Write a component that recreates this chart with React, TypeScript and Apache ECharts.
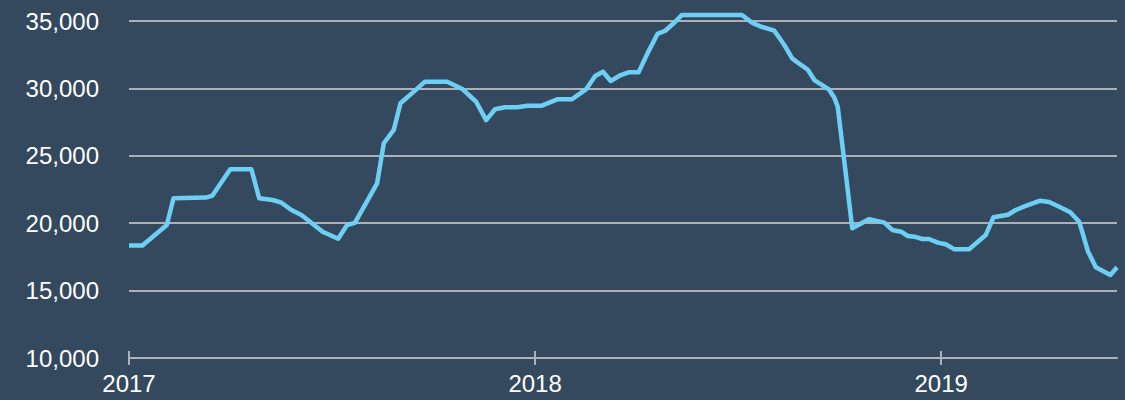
import React, { useEffect, useRef } from "react";
import * as echarts from "echarts";

const dates = [
  "2017-01-01", "2017-01-13", "2017-02-04", "2017-02-10", "2017-03-11", "2017-03-17", "2017-04-02", "2017-04-21",
  "2017-04-28", "2017-05-10", "2017-05-18", "2017-05-27", "2017-06-05", "2017-06-24", "2017-07-08", "2017-07-16",
  "2017-07-23", "2017-08-12", "2017-08-18", "2017-08-27", "2017-09-02", "2017-09-14", "2017-09-24", "2017-10-14",
  "2017-10-28", "2017-11-09", "2017-11-18", "2017-11-26", "2017-12-05", "2017-12-16", "2017-12-25",
  "2018-01-07", "2018-01-21", "2018-02-03", "2018-02-16", "2018-02-24", "2018-03-03", "2018-03-10", "2018-03-19",
  "2018-03-26", "2018-04-04", "2018-04-12", "2018-04-21", "2018-04-28", "2018-05-06", "2018-05-13", "2018-07-06",
  "2018-07-15", "2018-07-23", "2018-08-04", "2018-08-13", "2018-08-20", "2018-08-28", "2018-09-03", "2018-09-09",
  "2018-09-22", "2018-09-27", "2018-09-30", "2018-10-09", "2018-10-13", "2018-10-28", "2018-11-11", "2018-11-18",
  "2018-11-26", "2018-12-02", "2018-12-08", "2018-12-15", "2018-12-21", "2018-12-29",
  "2019-01-05", "2019-01-13", "2019-01-26", "2019-02-10", "2019-02-17", "2019-03-02", "2019-03-09", "2019-03-18",
  "2019-03-31", "2019-04-08", "2019-04-17", "2019-04-27", "2019-05-05", "2019-05-13", "2019-05-20", "2019-06-02",
  "2019-06-08",
];

const values = [
  18350, 18350, 19870, 21850, 21900, 22050, 24000, 24000,
  21850, 21720, 21520, 20980, 20610, 19370, 18850, 19870,
  20020, 22960, 25930, 26920, 28900, 29760, 30500, 30500,
  29930, 29010, 27650, 28450, 28600, 28600, 28720,
  28720, 29190, 29190, 29950, 30920, 31240, 30550, 30990,
  31190, 31190, 32600, 34040, 34280, 34870, 35450, 35450,
  34870, 34580, 34280, 33220, 32230, 31740, 31400, 30620,
  29930, 29300, 28640, 22460, 19620, 20300, 20040, 19500,
  19370, 19050, 19000, 18830, 18830, 18560,
  18440, 18060, 18060, 19120, 20440, 20630, 20980, 21280,
  21670, 21570, 21220, 20810, 20110, 17890, 16730, 16160,
  16730,
];

const yearTicks = ["2017-01-01", "2018-01-01", "2019-01-01"];

const yMin = 10000;
const yMax = 35000;
const yStep = 5000;

const DAY = 86400000;
const origin = Date.parse(dates[0]);
const toDay = (d: string) => (Date.parse(d) - origin) / DAY;

export default function App() {
  const ref = useRef<HTMLDivElement>(null);

  useEffect(() => {
    document.body.style.margin = "0";
    if (!ref.current) return;
    const chart = echarts.init(ref.current, null, { renderer: "svg" });
    const tickDays = yearTicks.map(toDay);
    const xMax = toDay(dates[dates.length - 1]);
    const gridColor = "#adb0b4";
    const font = "'Liberation Sans', Arial, sans-serif";
    chart.setOption({
      animation: false,
      backgroundColor: "#34495e",
      grid: { left: 129, right: 8, top: 21, bottom: 42, containLabel: false },
      xAxis: [
        {
          type: "value",
          min: 0,
          max: xMax,
          position: "bottom",
          axisLine: { show: true, lineStyle: { color: gridColor, width: 2 } },
          axisTick: {
            show: true,
            length: 7,
            customValues: tickDays,
            lineStyle: { color: gridColor, width: 2 },
          },
          axisLabel: {
            customValues: tickDays,
            color: "#ffffff",
            fontSize: 24,
            fontFamily: font,
            margin: 13,
            formatter: (v: number) => String(new Date(origin + v * DAY).getUTCFullYear()),
          },
          splitLine: { show: false },
        },
        {
          type: "value",
          min: 0,
          max: xMax,
          position: "bottom",
          axisLine: { show: false },
          axisTick: {
            show: true,
            inside: true,
            length: 7,
            customValues: tickDays,
            lineStyle: { color: gridColor, width: 2 },
          },
          axisLabel: { show: false },
          splitLine: { show: false },
        },
      ],
      yAxis: {
        type: "value",
        min: yMin,
        max: yMax,
        interval: yStep,
        axisLine: { show: false },
        axisTick: { show: false },
        axisLabel: {
          color: "#ffffff",
          fontSize: 24,
          fontFamily: font,
          margin: 30,
          formatter: (v: number) => v.toLocaleString("en-US"),
        },
        splitLine: { show: true, lineStyle: { color: gridColor, width: 2 } },
      },
      series: [
        {
          type: "line",
          xAxisIndex: 0,
          clip: false,
          data: dates.map((d, i) => [toDay(d), values[i]]),
          showSymbol: false,
          symbol: "none",
          lineStyle: { color: "#6ecff5", width: 4.5, join: "round" },
          z: 5,
        },
      ],
    });
    return () => chart.dispose();
  }, []);

  return <div ref={ref} style={{ width: 1125, height: 400 }} />;
}
